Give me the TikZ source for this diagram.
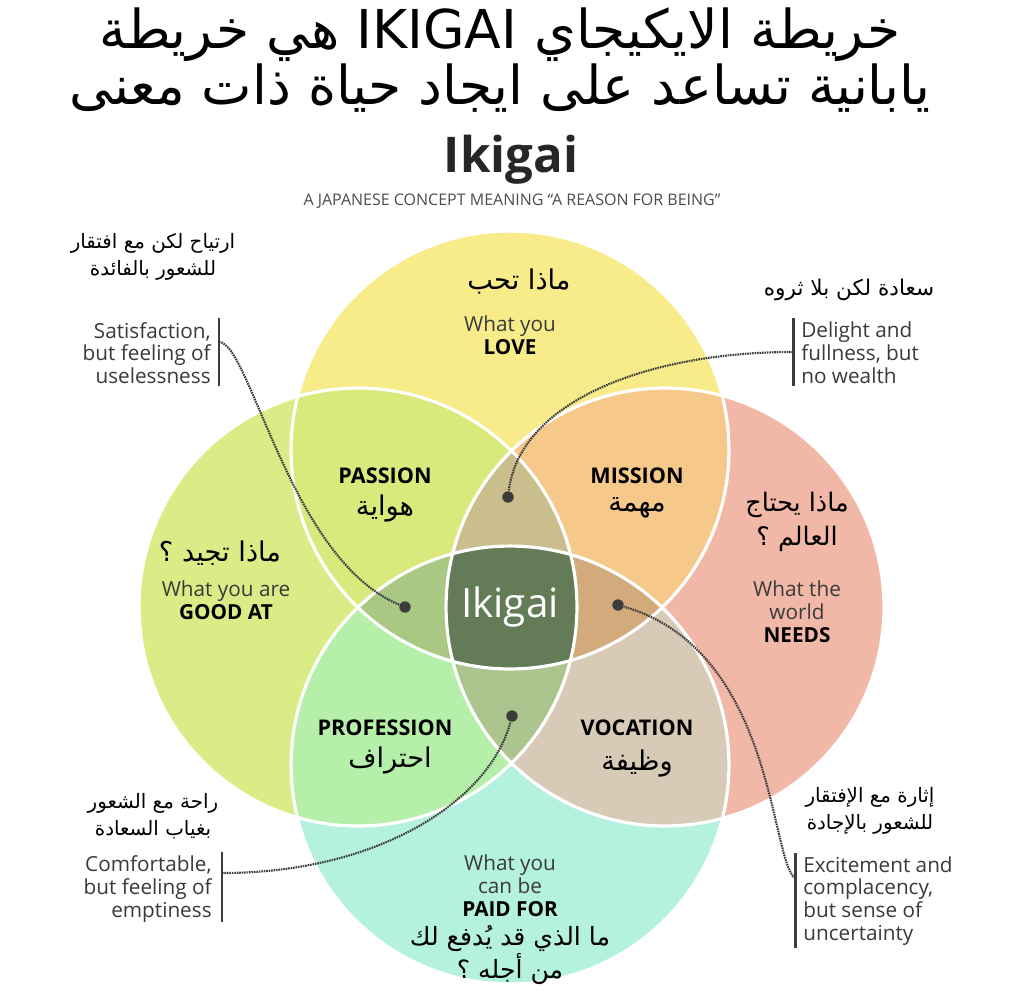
\documentclass[tikz,border=0pt]{standalone}
\usepackage{fontspec}
\setmainfont{Open Sans}
\newfontfamily\arabicfont[Script=Arabic]{DejaVu Sans}
\TeXXeTstate=1
\usetikzlibrary{positioning}

\definecolor{loveC}{HTML}{F8EB8A}
\definecolor{goodC}{HTML}{D9EC85}
\definecolor{needC}{HTML}{F1B8A8}
\definecolor{paidC}{HTML}{B4F1DE}
\definecolor{passionC}{HTML}{D9E97C}
\definecolor{missionC}{HTML}{F6C98B}
\definecolor{professionC}{HTML}{B6EFA9}
\definecolor{vocationC}{HTML}{D7CAB7}
\definecolor{topC}{HTML}{C9BE8C}
\definecolor{leftC}{HTML}{A8C883}
\definecolor{rightC}{HTML}{D3AA7C}
\definecolor{lowC}{HTML}{ACC58E}
\definecolor{coreC}{HTML}{637B56}
\definecolor{ink}{HTML}{3A3A3A}
\definecolor{barC}{HTML}{3C3C3C}

\def\rad{4.38cm}
\newcommand{\arline}[1]{\beginR #1\endR}

\begin{document}
\begin{tikzpicture}[x=0.02cm, y=-0.02cm,
  en/.style={font=\fontsize{11.8}{13}\selectfont, text=ink, align=center, inner sep=0pt},
  arb/.style={font=\arabicfont\fontsize{15.5}{19.5}\selectfont, align=center, inner sep=0pt},
  note/.style={font=\fontsize{11.8}{13}\selectfont, text=ink, inner sep=0pt},
  side/.style={font=\arabicfont\fontsize{11.3}{15}\selectfont, align=center, inner sep=0pt},
  overlap/.style={font=\bfseries\fontsize{12.3}{13}\selectfont, inner sep=0pt},
  bar/.style={draw=barC, line width=1.7pt},
  leader/.style={draw=barC, line width=1.2pt, dash pattern=on 0.9pt off 0.5pt},
  pin/.style={circle, fill=barC, inner sep=0pt, minimum size=6.5pt},
  ring/.style={draw=white, line width=1.8pt}]
\fill[white] (0,0) rectangle (1023,991);
\useasboundingbox (0,0) rectangle (1023,991);

% heading
\node[font=\arabicfont\fontsize{30.5}{28.5}\selectfont, align=center, inner sep=0pt] (title) at (500,60)
  {\arline{خريطة الايكيجاي  \beginL IKIGAI\endL{} هي خريطة}\\\arline{يابانية تساعد على ايجاد حياة ذات معنى}};
\node[font=\bfseries\fontsize{28}{30}\selectfont, text=black!85, anchor=base, inner sep=0pt] (ikigai) at (511,172) {Ikigai};
\node[font=\fontsize{9.1}{10}\selectfont, text=black!70, anchor=base, inner sep=0pt] (concept) at (512,205)
  {A JAPANESE CONCEPT MEANING ``A REASON FOR BEING''};

% the four circles
\coordinate (T) at (510,450);
\coordinate (L) at (358,607);
\coordinate (R) at (665,607);
\coordinate (B) at (510,765);
\foreach \c/\col in {T/loveC, L/goodC, R/needC, B/paidC}
  \fill[\col] (\c) circle[radius=\rad];
% overlaps of two
\foreach \a/\b/\col in {T/L/passionC, T/R/missionC, L/B/professionC, R/B/vocationC}{
  \begin{scope}
    \clip (\a) circle[radius=\rad];
    \fill[\col] (\b) circle[radius=\rad];
  \end{scope}}
% overlaps of three
\foreach \a/\b/\c/\col in {T/L/R/topC, T/L/B/leftC, T/R/B/rightC, L/R/B/lowC}{
  \begin{scope}
    \clip (\a) circle[radius=\rad];
    \clip (\b) circle[radius=\rad];
    \fill[\col] (\c) circle[radius=\rad];
  \end{scope}}
% centre
\begin{scope}
  \clip (T) circle[radius=\rad];
  \clip (L) circle[radius=\rad];
  \clip (R) circle[radius=\rad];
  \fill[coreC] (B) circle[radius=\rad];
\end{scope}
\foreach \c in {T,L,R,B}
  \draw[ring] (\c) circle[radius=\rad];

% circle labels
\node[arb] (lovear) at (519,281) {\arline{ماذا تحب}};
\node[en] (love) at (510,335) {What you\\\textbf{\color{black}LOVE}};
\node[arb] (goodar) at (220,553) {\arline{ماذا تجيد ؟}};
\node[en] (good) at (226,600) {What you are\\\textbf{\color{black}GOOD AT}};
\node[arb, font=\arabicfont\fontsize{14.5}{19.5}\selectfont] (needar) at (797,522) {\arline{ماذا يحتاج}\\\arline{العالم ؟}};
\node[en] (need) at (797,612) {What the\\world\\\textbf{\color{black}NEEDS}};
\node[en] (paid) at (510,886) {What you\\can be\\\textbf{\color{black}PAID FOR}};
\node[arb, font=\arabicfont\fontsize{14.3}{17}\selectfont] (paidar) at (510,955) {\arline{ما الذي قد يُدفع لك}\\\arline{من أجله ؟}};

% overlap labels
\node[overlap] (passion) at (385,476) {PASSION};
\node[arb] (passionar) at (385,508) {\arline{هواية}};
\node[overlap] (mission) at (637,476) {MISSION};
\node[arb] (missionar) at (637,508) {\arline{مهمة}};
\node[overlap] (profession) at (385,728) {PROFESSION};
\node[arb] (professionar) at (390,760) {\arline{احتراف}};
\node[overlap] (vocation) at (637,728) {VOCATION};
\node[arb] (vocationar) at (637,763) {\arline{وظيفة}};
\node[font=\fontsize{23}{26}\selectfont, text=white, inner sep=0pt] (core) at (510,607) {Ikigai};

% side notes
\node[side] (uselessar) at (153,257) {\arline{ارتياح لكن مع افتقار}\\\arline{للشعور بالفائدة}};
\node[note, anchor=east, align=right] (useless) at (211,353) {Satisfaction,\\but feeling of\\uselessness};
\node[side, font=\arabicfont\fontsize{12.3}{15}\selectfont] (wealthar) at (849,290) {\arline{سعادة لكن بلا ثروه}};
\node[note, anchor=west, align=left] (wealth) at (801,353) {Delight and\\fullness, but\\no wealth};
\node[side] (emptyar) at (153,816) {\arline{راحة مع الشعور}\\\arline{بغياب السعادة}};
\node[note, anchor=east, align=right] (empty) at (212,889) {Comfortable,\\but feeling of\\emptiness};
\node[side] (unsurear) at (870,811) {\arline{إثارة مع الإفتقار}\\\arline{للشعور بالإجادة}};
\node[note, anchor=west, align=left] (unsure) at (803,901) {Excitement and\\complacency,\\but sense of\\uncertainty};

% bars
\draw[bar] (219,318) -- (219,386);
\draw[bar] (793,318) -- (793,386);
\draw[bar] (222,852) -- (222,922);
\draw[bar] (795,853) -- (795,948);
\coordinate (tlbar) at (219,342);
\coordinate (trbar) at (793,352);
\coordinate (blbar) at (222,873);
\coordinate (brbar) at (795,878);

% pins and leaders
\node[pin] (tldot) at (405,607) {};
\node[pin] (trdot) at (508,497) {};
\node[pin] (bldot) at (512,716) {};
\node[pin] (brdot) at (618,605) {};
\draw[leader] (tlbar) .. controls (250,342) and (290,560) .. (tldot);
\draw[leader] (trbar) .. controls (650,352) and (520,400) .. (trdot);
\draw[leader] (blbar) .. controls (380,873) and (490,800) .. (bldot);
\draw[leader] (brbar) .. controls (770,860) and (775,650) .. (brdot);
\end{tikzpicture}
\end{document}
